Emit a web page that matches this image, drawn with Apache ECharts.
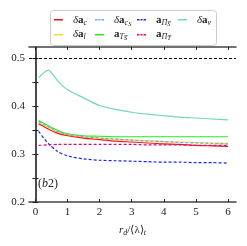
<!DOCTYPE html>
<html><head><meta charset="utf-8">
<script src="https://cdn.jsdelivr.net/npm/echarts@6/dist/echarts.min.js"></script>
<style>html,body{margin:0;padding:0;background:#fff}#c{width:247px;height:246px}</style>
</head><body><div id="c"></div>
<script>
const xs = [0.1,0.4,0.7,1.0,1.5,2,2.5,3,3.5,4,4.5,5,5.5,6];
const dA_c  = [0.363,0.352,0.343,0.338,0.333,0.330,0.327,0.325,0.323,0.321,0.320,0.318,0.317,0.316];
const dA_cS = [0.368,0.357,0.347,0.341,0.336,0.333,0.331,0.329,0.327,0.326,0.324,0.323,0.322,0.321];
const a_PiS = [0.347,0.322,0.305,0.296,0.290,0.287,0.286,0.285,0.284,0.283,0.283,0.282,0.282,0.281];
const dA_nu = [0.459,0.475,0.452,0.434,0.417,0.401,0.393,0.387,0.383,0.380,0.377,0.375,0.373,0.371];
const dA_l  = [0.366,0.356,0.346,0.340,0.336,0.333,0.331,0.329,0.328,0.326,0.325,0.324,0.323,0.322];
const a_TS  = [0.370,0.359,0.349,0.342,0.338,0.337,0.336,0.336,0.336,0.336,0.336,0.336,0.336,0.336];
const a_PiT = [0.318,0.319,0.320,0.320,0.320,0.320,0.320,0.320,0.319,0.319,0.319,0.318,0.318,0.318];
const xTicks = [0,1,2,3,4,5,6];
const yLabels = [0.2,0.3,0.4,0.5];
const yTicks = [0.2,0.25,0.3,0.35,0.4,0.45,0.5];
const refLine = 0.5;

const SERIF = 'Liberation Serif';
const COLORS = {nu:'#6fd9b4', TS:'#22ee22', l:'#ffd633', cS:'#66aaee', c:'#ff1111', PiT:'#cc1177', PiS:'#2222ee'};
const pair = a => xs.map((x,i)=>[x,a[i]]);
const rich = {
  g:{fontFamily:SERIF,fontSize:11,fontStyle:'italic',color:'#222'},
  b:{fontFamily:SERIF,fontSize:11,fontWeight:'bold',color:'#222'},
  s:{fontFamily:SERIF,fontSize:8,fontStyle:'italic',color:'#222',padding:[5,0,0,0]},
  ss:{fontFamily:SERIF,fontSize:6.5,fontStyle:'italic',color:'#222',padding:[8,0,0,0]}
};
const labels = {
  c:'{g|δ}{b|a}{s|c}', cS:'{g|δ}{b|a}{s|c}{ss|S}', PiS:'{b|a}{s|Π}{ss|S̅}', nu:'{g|δ}{b|a}{s|ν}',
  l:'{g|δ}{b|a}{s|l}', TS:'{b|a}{s|T}{ss|S̅}', PiT:'{b|a}{s|Π}{ss|T̅}'
};
const dashedNames = {cS:1, PiS:1, PiT:1};
function ser(name, data){
  const color = COLORS[name];
  return {name, type:'line', data:pair(data), symbol:'none', smooth:0.25, color,
    lineStyle:{color, width:1.2, type: dashedNames[name]?[3,2]:'solid'}, itemStyle:{color}};
}
const cols = [[54,['c','l']],[95,['cS','TS']],[137,['PiS','PiT']],[178,['nu']]];
const rowY = [19,34];
const legends = cols.map(([left,names]) => ({
  left, top:8, orient:'vertical', data:names.map(n=>({name:n, icon:'none'})),
  itemWidth:9, itemHeight:2, itemGap:0,
  formatter: n => labels[n], textStyle:{rich, lineHeight:14}, selectedMode:false
}));
const iconGraphics = [];
cols.forEach(([left,names]) => names.forEach((n,i) => {
  const segs = dashedNames[n] ? [[0,2.5],[3.5,2],[6.5,2.5]] : [[0,9]];
  segs.forEach(([dx,w]) => iconGraphics.push({
    type:'rect', z:20, shape:{x:left+dx, y:rowY[i], width:w, height:1.5},
    style:{fill:COLORS[n]}
  }));
}));
const frame = {lineStyle:{color:'#444', width:1.6}};
const chart = echarts.init(document.getElementById('c'));
chart.setOption({
  animation:false,
  grid:{left:29,right:11,top:47,bottom:44},
  graphic:[
    {type:'rect', left:50, top:10, shape:{width:166,height:35,r:3}, style:{fill:'#fff',stroke:'#ccc',lineWidth:1}, z:0},
    {type:'text', left:38, top:178, z:10, style:{rich:{i:{fontFamily:SERIF,fontStyle:'italic',fontSize:12,fill:'#222'},n:{fontFamily:SERIF,fontSize:12,fill:'#222'}}, text:'{n|(}{i|b}{n|2)}'}}
  ].concat(iconGraphics),
  legend:legends,
  xAxis:[
    {type:'value', min:-0.2, max:6.25, position:'bottom',
     axisLine:frame, splitLine:{show:false},
     axisTick:{inside:true,length:3,customValues:xTicks,lineStyle:{color:'#222'}},
     axisLabel:{customValues:xTicks, fontFamily:SERIF, fontSize:11, color:'#222', margin:5},
     name:'{i|r}{s|d}{n|/⟨λ⟩}{s|t}', nameLocation:'middle', nameGap:22,
     nameTextStyle:{rich:{i:{fontFamily:SERIF,fontStyle:'italic',fontSize:11,color:'#222'},
                          n:{fontFamily:SERIF,fontSize:11,color:'#222'},
                          s:{fontFamily:SERIF,fontStyle:'italic',fontSize:8,color:'#222',padding:[5,0,0,0]}}}},
    {type:'value', min:-0.2, max:6.25, position:'top',
     axisLine:frame, splitLine:{show:false},
     axisTick:{inside:true,length:3,customValues:xTicks,lineStyle:{color:'#222'}},
     axisLabel:{show:false}}
  ],
  yAxis:[
    {type:'value', min:0.2, max:0.523, position:'left',
     axisLine:frame, splitLine:{show:false},
     axisTick:{inside:true,length:3,customValues:yTicks,lineStyle:{color:'#222'}},
     axisLabel:{customValues:yLabels, formatter:v=>v.toFixed(1), fontFamily:SERIF, fontSize:11, color:'#222', margin:4}},
    {type:'value', min:0.2, max:0.523, position:'right',
     axisLine:frame, splitLine:{show:false},
     axisTick:{inside:true,length:3,customValues:yTicks,lineStyle:{color:'#222'}},
     axisLabel:{show:false}}
  ],
  series:[
    Object.assign(ser('nu', dA_nu), {markLine:{silent:true, symbol:'none', label:{show:false},
      lineStyle:{color:'#000', type:[3,2], width:1}, data:[{yAxis:refLine}]}}),
    ser('TS', a_TS),
    ser('l', dA_l),
    ser('cS', dA_cS),
    ser('c', dA_c),
    ser('PiT', a_PiT),
    ser('PiS', a_PiS)
  ]
});
</script></body></html>
